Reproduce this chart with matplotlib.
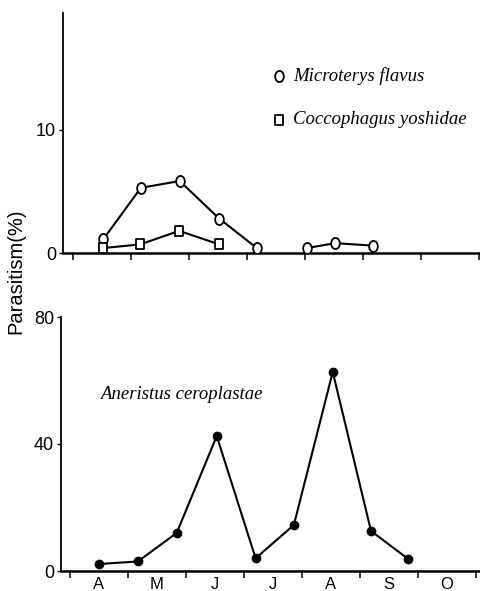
import matplotlib
matplotlib.use("Agg")
import matplotlib.pyplot as plt
from matplotlib.path import Path
from matplotlib.transforms import Affine2D
import numpy as np

# x in months since 1 April
months = ["A", "M", "J", "J", "A", "S", "O"]

micro_x1 = [0.52, 1.17, 1.84, 2.52, 3.17]
micro_y1 = [1.1, 5.3, 5.85, 2.8, 0.4]
micro_x2 = [4.03, 4.52, 5.17]
micro_y2 = [0.4, 0.8, 0.6]

cocco_x = [0.52, 1.16, 1.83, 2.52]
cocco_y = [0.4, 0.7, 1.8, 0.7]

aner_x = [0.5, 1.17, 1.84, 2.53, 3.2, 3.86, 4.53, 5.19, 5.83]
aner_y = [2.2, 3.0, 12.0, 42.5, 4.0, 14.5, 62.7, 12.6, 3.8]

plt.rcParams['font.family'] = ['Liberation Sans', 'DejaVu Sans']

fig = plt.figure(figsize=(4.81, 5.91), dpi=100)
W, H = 481, 591

def ax_rect(l, r, t, b):
    return [l / W, 1 - b / H, (r - l) / W, (b - t) / H]

ell = Path.unit_circle().transformed(Affine2D().scale(0.78, 1.0))
sq = Path([(-0.75, -1), (0.75, -1), (0.75, 1), (-0.75, 1), (-0.75, -1)],
          [Path.MOVETO, Path.LINETO, Path.LINETO, Path.LINETO, Path.CLOSEPOLY])

serif = ['Liberation Serif', 'DejaVu Serif']

# Top panel
ax1 = fig.add_axes(ax_rect(63, 481, 13, 253))
ax1.plot(micro_x1, micro_y1, color='black', lw=1.5, marker=ell, ms=8,
         mfc='white', mec='black', mew=1.3, zorder=3)
ax1.plot(micro_x2, micro_y2, color='black', lw=1.5, marker=ell, ms=8,
         mfc='white', mec='black', mew=1.3, zorder=3)
ax1.plot(cocco_x, cocco_y, color='black', lw=1.5, marker=sq, ms=7,
         mfc='white', mec='black', mew=1.3, zorder=4)
ax1.set_xlim(-10 / 58, (481 - 73) / 58)
ax1.set_ylim(0, 240 / 12.3)
ax1.set_yticks([0, 10])
ax1.set_yticklabels(["0", "10"])
ax1.set_xticks(range(0, 8))
ax1.set_xticklabels([])
# legend as text
ax1.plot([3.55], [14.4], marker=ell, ms=8, mfc='white', mec='black', mew=1.3,
         ls='none', clip_on=False)
ax1.plot([3.55], [10.85], marker=sq, ms=7, mfc='white', mec='black', mew=1.3,
         ls='none', clip_on=False)
ax1.text(3.80, 14.4, "Microterys flavus", family=serif, style='italic',
         fontsize=13.5, va='center', ha='left')
ax1.text(3.80, 10.85, "Coccophagus yoshidae", family=serif, style='italic',
         fontsize=13.5, va='center', ha='left')

# Bottom panel
ax2 = fig.add_axes(ax_rect(61, 481, 317, 571))
ax2.plot(aner_x, aner_y, color='black', lw=1.5, marker='o', ms=6,
         mfc='black', mec='black', zorder=3)
ax2.set_xlim(-9 / 58, (481 - 70) / 58)
ax2.set_ylim(0, 80)
ax2.set_yticks([0, 40, 80])
ax2.set_yticklabels(["0", "40", "80"])
ax2.set_xticks(range(0, 8))
ax2.set_xticklabels([])
ax2.set_xticks(np.arange(7) + 0.5, minor=True)
ax2.set_xticklabels(months, minor=True)
ax2.text(0.52, 55.5, "Aneristus ceroplastae", family=serif, style='italic',
         fontsize=13.5, va='center', ha='left')

for ax in (ax1, ax2):
    for s in ('top', 'right'):
        ax.spines[s].set_visible(False)
    ax.spines['left'].set_linewidth(1.3)
    ax.spines['bottom'].set_linewidth(1.8)
    ax.tick_params(axis='x', which='major', direction='out', length=5,
                   width=1.1)
    ax.tick_params(axis='x', which='minor', length=0, labelsize=12, pad=4)
    ax.tick_params(axis='y', direction='out', length=3, width=1.0,
                   labelsize=13, pad=2)

fig.text(16 / W, 1 - 271 / H, "Parasitism(%)", rotation=90, fontsize=14.5,
         ha='center', va='center')

fig.savefig("out.png", dpi=100)
